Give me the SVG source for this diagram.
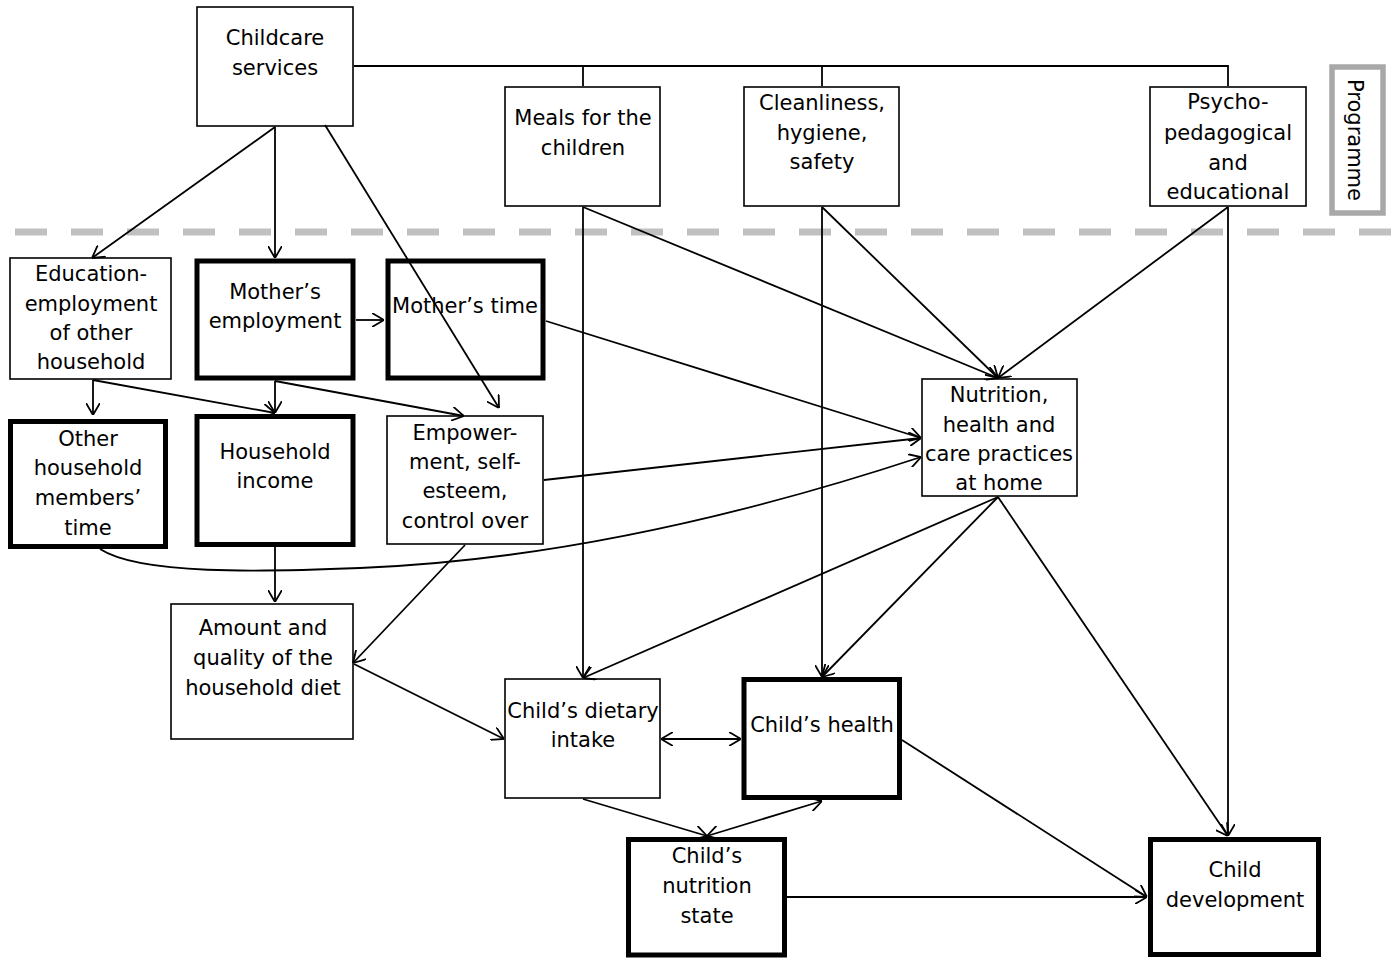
<svg xmlns="http://www.w3.org/2000/svg" width="1393" height="958" viewBox="0 0 1393 958">
<defs>
<marker id="ah" viewBox="0 0 12 14" refX="12" refY="7" markerWidth="12" markerHeight="14" markerUnits="userSpaceOnUse" orient="auto-start-reverse">
<path d="M0,0 L12,7 L0,14" fill="none" stroke="#000" stroke-width="1.8"/>
</marker>
<style>
.b{fill:#fff;stroke:#000;stroke-width:1.6}
.k{fill:#fff;stroke:#000;stroke-width:5}
text{font-family:"DejaVu Sans","Verdana",sans-serif;font-size:21px;fill:#000;text-anchor:middle}
.c{fill:none;stroke:#000;stroke-width:1.8}
.a{marker-end:url(#ah)}
.d{marker-start:url(#ah);marker-end:url(#ah)}
</style>
</defs>
<rect width="1393" height="958" fill="#fff"/>
<line x1="15" y1="232" x2="1393" y2="232" stroke="#c0c0c0" stroke-width="7" stroke-dasharray="32 24"/>
<g id="childcare"><rect class="b" x="197" y="7" width="156" height="119"/><text x="275" y="45">Childcare</text><text x="275" y="75">services</text></g>
<g id="meals"><rect class="b" x="505" y="87" width="155" height="119"/><text x="583" y="125">Meals for the</text><text x="583" y="155">children</text></g>
<g id="cleanliness"><rect class="b" x="744" y="87" width="155" height="119"/><text x="822" y="110">Cleanliness,</text><text x="822" y="140">hygiene,</text><text x="822" y="169">safety</text></g>
<g id="psycho"><rect class="b" x="1150" y="87" width="156" height="119"/><text x="1228" y="109">Psycho-</text><text x="1228" y="140">pedagogical</text><text x="1228" y="170">and</text><text x="1228" y="199">educational</text></g>
<g id="programme"><rect x="1332" y="67" width="51" height="146" fill="#fff" stroke="#a8a8a8" stroke-width="5.5"/><text x="1348" y="140" transform="rotate(90 1348 140)">Programme</text></g>
<g id="education"><rect class="b" x="10" y="258" width="161" height="121"/><text x="91" y="281">Education-</text><text x="91" y="311">employment</text><text x="91" y="340">of other</text><text x="91" y="369">household</text></g>
<g id="mother-employment"><rect class="k" x="197" y="261" width="156" height="117"/><text x="275" y="299">Mother’s</text><text x="275" y="328">employment</text></g>
<g id="mother-time"><rect class="k" x="388" y="261" width="155" height="117"/><text x="465" y="313">Mother’s time</text></g>
<g id="other-time"><rect class="k" x="10.5" y="421.5" width="155" height="125"/><text x="88" y="446">Other</text><text x="88" y="475">household</text><text x="88" y="505">members’</text><text x="88" y="535">time</text></g>
<g id="income"><rect class="k" x="197" y="416.5" width="156" height="128"/><text x="275" y="459">Household</text><text x="275" y="488">income</text></g>
<g id="empowerment"><rect class="b" x="387" y="416" width="156" height="128"/><text x="465" y="440">Empower-</text><text x="465" y="469">ment, self-</text><text x="465" y="498">esteem,</text><text x="465" y="528">control over</text></g>
<g id="practices"><rect class="b" x="922" y="379" width="155" height="117"/><text x="999" y="402">Nutrition,</text><text x="999" y="432">health and</text><text x="999" y="461">care practices</text><text x="999" y="490">at home</text></g>
<g id="diet"><rect class="b" x="171" y="604" width="182" height="135"/><text x="263" y="635">Amount and</text><text x="263" y="665">quality of the</text><text x="263" y="695">household diet</text></g>
<g id="intake"><rect class="b" x="505" y="679" width="155" height="119"/><text x="583" y="718">Child’s dietary</text><text x="583" y="747">intake</text></g>
<g id="health"><rect class="k" x="744" y="679.5" width="155.5" height="118"/><text x="822" y="732">Child’s health</text></g>
<g id="nutrition-state"><rect class="k" x="628.5" y="839.5" width="156" height="115.5"/><text x="707" y="863">Child’s</text><text x="707" y="893">nutrition</text><text x="707" y="923">state</text></g>
<g id="development"><rect class="k" x="1150.5" y="839.5" width="168" height="115"/><text x="1235" y="877">Child</text><text x="1235" y="907">development</text></g>
<g id="connectors">
<polyline class="c" points="354,66 1228,66 1228,86"/>
<line class="c" x1="583" y1="66" x2="583" y2="86"/>
<line class="c" x1="822" y1="66" x2="822" y2="86"/>
<line class="c a" x1="275" y1="127" x2="92" y2="258"/>
<line class="c a" x1="275" y1="127" x2="275" y2="258"/>
<line class="c a" x1="325" y1="125" x2="499" y2="408"/>
<line class="c a" x1="356" y1="320" x2="384" y2="320"/>
<line class="c a" x1="93" y1="380" x2="93" y2="415"/>
<line class="c a" x1="93" y1="380" x2="275" y2="413"/>
<line class="c a" x1="275" y1="381" x2="275" y2="413"/>
<line class="c a" x1="275" y1="381" x2="464" y2="416"/>
<line class="c a" x1="546" y1="321" x2="921" y2="438"/>
<line class="c a" x1="544" y1="480" x2="921" y2="438"/>
<path class="c a" d="M100,549 C140,575 260,572 360,568 C560,560 760,510 921,457"/>
<line class="c a" x1="275" y1="547" x2="275" y2="602"/>
<line class="c a" x1="465" y1="545" x2="353" y2="663"/>
<line class="c a" x1="354" y1="664" x2="504" y2="739"/>
<line class="c a" x1="583" y1="207" x2="583" y2="678"/>
<line class="c a" x1="583" y1="207" x2="998" y2="378"/>
<line class="c a" x1="822" y1="207" x2="822" y2="677"/>
<line class="c a" x1="822" y1="207" x2="998" y2="378"/>
<line class="c a" x1="1228" y1="207" x2="998" y2="378"/>
<line class="c a" x1="1228" y1="207" x2="1228" y2="836"/>
<line class="c a" x1="998" y1="497" x2="583" y2="678"/>
<line class="c a" x1="998" y1="497" x2="822" y2="677"/>
<line class="c a" x1="998" y1="497" x2="1228" y2="836"/>
<line class="c d" x1="661" y1="739" x2="741" y2="739"/>
<line class="c a" x1="583" y1="799" x2="707" y2="836"/>
<line class="c d" x1="707" y1="836" x2="822" y2="801"/>
<line class="c a" x1="902" y1="740" x2="1147" y2="897"/>
<line class="c a" x1="787" y1="897" x2="1147" y2="897"/>
</g>
</svg>
